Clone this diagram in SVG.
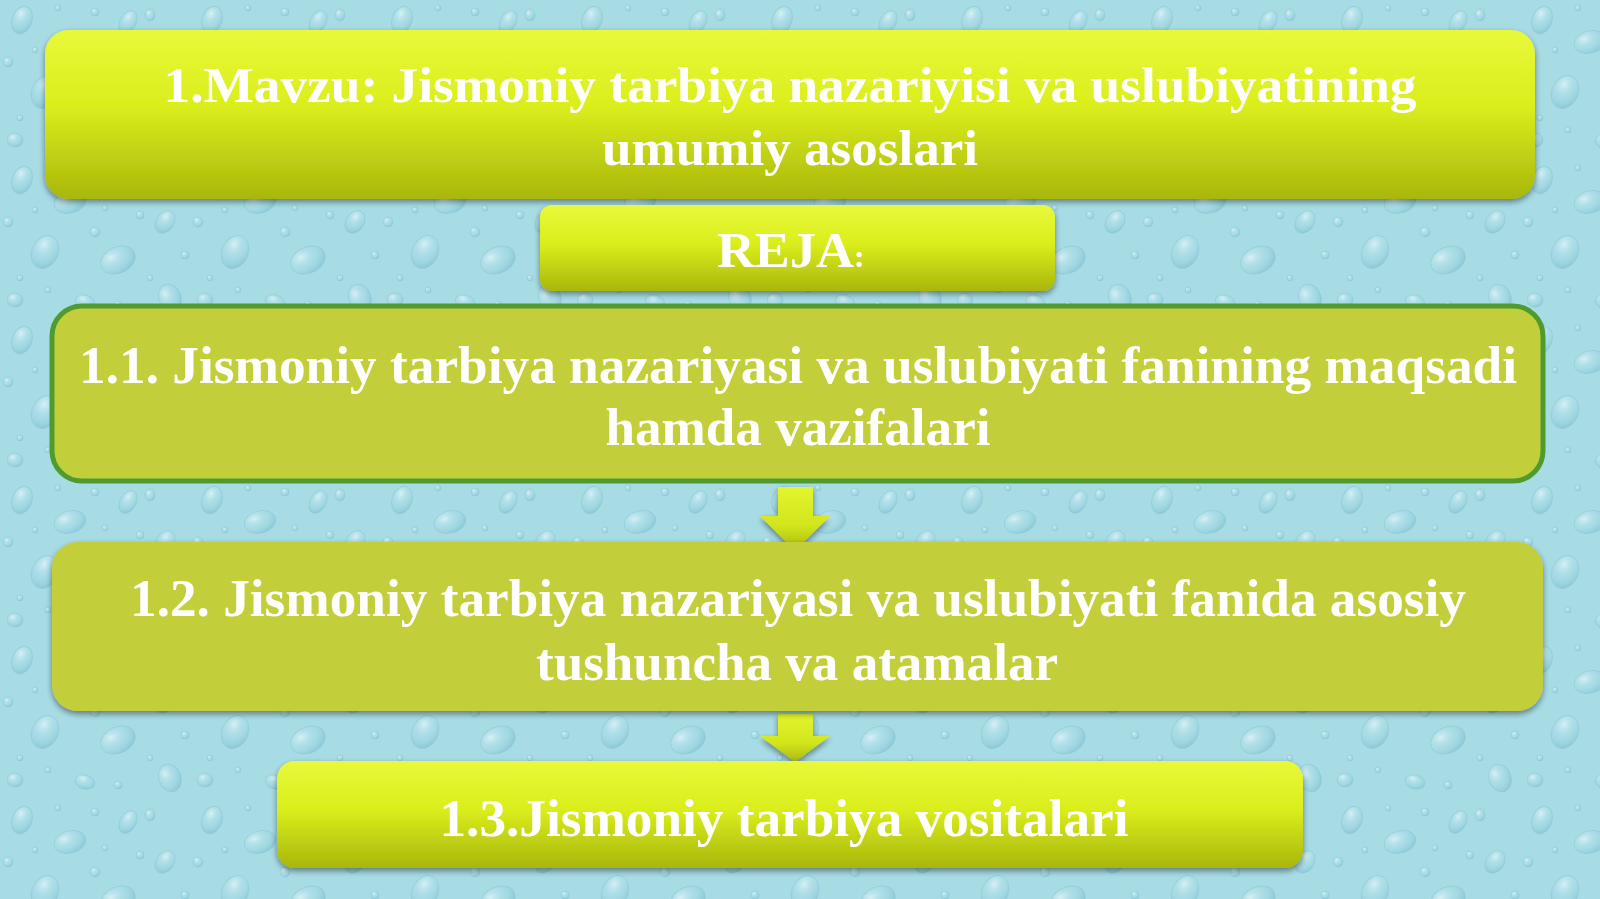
<svg xmlns="http://www.w3.org/2000/svg" width="1600" height="899" viewBox="0 0 1600 899">
  <defs>
    <style>
      .t { font-family: "Liberation Serif", "Times New Roman", serif; font-weight: bold; fill: #ffffff; text-anchor: middle; }
      .glossy { fill: url(#gGloss); filter: url(#shadow); }
      .flat { fill: #c2cf3b; }
      .conn { fill: url(#gArrow); filter: url(#shadow); }
    </style>
    <linearGradient id="gGloss" x1="0" y1="0" x2="0" y2="1">
      <stop offset="0" stop-color="#e8f93a"/>
      <stop offset="0.45" stop-color="#daee1c"/>
      <stop offset="1" stop-color="#a8b70c"/>
    </linearGradient>
    <linearGradient id="gArrow" x1="0" y1="0" x2="0" y2="1">
      <stop offset="0" stop-color="#e2f52e"/>
      <stop offset="0.6" stop-color="#d2e61d"/>
      <stop offset="1" stop-color="#aab80e"/>
    </linearGradient>
    <radialGradient id="gDrop" cx="0.35" cy="0.3" r="0.75">
      <stop offset="0" stop-color="#dff4f8" stop-opacity="0.85"/>
      <stop offset="0.55" stop-color="#a6dae4" stop-opacity="0.3"/>
      <stop offset="1" stop-color="#74b8c8" stop-opacity="0.55"/>
    </radialGradient>
    <filter id="shadow" x="-5%" y="-20%" width="110%" height="150%">
      <feGaussianBlur in="SourceAlpha" stdDeviation="3"/>
      <feOffset dx="0" dy="3" result="b"/>
      <feComponentTransfer><feFuncA type="linear" slope="0.45"/></feComponentTransfer>
      <feMerge><feMergeNode/><feMergeNode in="SourceGraphic"/></feMerge>
    </filter>
    <pattern id="drops" x="0" y="0" width="190" height="160" patternUnits="userSpaceOnUse">
      <rect width="190" height="160" fill="#a8dce5"/>
      <g fill="url(#gDrop)" stroke="#86c6d4" stroke-width="1" stroke-opacity="0.55">
        <ellipse cx="22" cy="20" rx="10" ry="14" transform="rotate(20 22 20)"/>
        <ellipse cx="70" cy="42" rx="16" ry="11" transform="rotate(-15 70 42)"/>
        <ellipse cx="128" cy="22" rx="8" ry="12" transform="rotate(30 128 22)"/>
        <ellipse cx="45" cy="92" rx="13" ry="17" transform="rotate(25 45 92)"/>
        <ellipse cx="118" cy="100" rx="18" ry="13" transform="rotate(-25 118 100)"/>
        <ellipse cx="165" cy="62" rx="9" ry="12" transform="rotate(35 165 62)"/>
        <ellipse cx="15" cy="140" rx="8" ry="7"/>
        <ellipse cx="85" cy="142" rx="10" ry="7" transform="rotate(15 85 142)"/>
        <ellipse cx="170" cy="138" rx="11" ry="14" transform="rotate(-20 170 138)"/>
        <ellipse cx="150" cy="15" rx="5" ry="6"/>
        <circle cx="95" cy="12" r="4"/>
        <circle cx="8" cy="62" r="5"/>
        <circle cx="140" cy="55" r="4"/>
        <circle cx="58" cy="8" r="3"/>
        <circle cx="95" cy="72" r="5"/>
        <circle cx="20" cy="118" r="3"/>
        <circle cx="150" cy="118" r="3"/>
        <circle cx="185" cy="95" r="4"/>
        <circle cx="118" cy="145" r="4"/>
        <circle cx="48" cy="130" r="3"/>
        <circle cx="35" cy="50" r="3"/>
        <circle cx="105" cy="48" r="3"/>
      </g>
    </pattern>
  </defs>

  <rect id="background" x="0" y="0" width="1600" height="899" fill="url(#drops)"/>

  <g id="connectors">
    <polygon class="conn" points="778,487 813,487 813,516 830,516 795,551 760,516 778,516"/>
    <polygon class="conn" points="778,714 813,714 813,736 830,736 795,762 760,736 778,736"/>
  </g>

  <g id="title">
    <rect class="glossy" x="45" y="30" width="1490" height="169" rx="24"/>
    <text class="t" x="790" y="102" font-size="50" textLength="1253" lengthAdjust="spacingAndGlyphs">1.Mavzu: Jismoniy tarbiya nazariyisi va uslubiyatining</text>
    <text class="t" x="790" y="165" font-size="50" textLength="376" lengthAdjust="spacingAndGlyphs">umumiy asoslari</text>
  </g>

  <g id="reja">
    <rect class="glossy" x="540" y="205" width="515" height="86" rx="12"/>
    <text class="t" x="791" y="267" font-size="50" textLength="148" lengthAdjust="spacingAndGlyphs">REJA<tspan font-size="32">:</tspan></text>
  </g>

  <g id="item1">
    <rect class="flat" x="52" y="306" width="1491" height="175" rx="30" stroke="#4f9b2f" stroke-width="5"/>
    <text class="t" x="798" y="383" font-size="52" textLength="1438" lengthAdjust="spacingAndGlyphs">1.1. Jismoniy tarbiya nazariyasi va uslubiyati fanining maqsadi</text>
    <text class="t" x="798" y="445" font-size="52" textLength="385" lengthAdjust="spacingAndGlyphs">hamda vazifalari</text>
  </g>

  <g id="item2">
    <rect class="flat" x="52" y="542" width="1491" height="169" rx="26" filter="url(#shadow)"/>
    <text class="t" x="798" y="616" font-size="52" textLength="1336" lengthAdjust="spacingAndGlyphs">1.2. Jismoniy tarbiya nazariyasi va uslubiyati fanida asosiy</text>
    <text class="t" x="797" y="680" font-size="52" textLength="522" lengthAdjust="spacingAndGlyphs">tushuncha va atamalar</text>
  </g>

  <g id="item3">
    <rect class="glossy" x="277" y="761" width="1026" height="107" rx="18"/>
    <text class="t" x="784" y="836" font-size="52" textLength="689" lengthAdjust="spacingAndGlyphs">1.3.Jismoniy tarbiya vositalari</text>
  </g>
</svg>
